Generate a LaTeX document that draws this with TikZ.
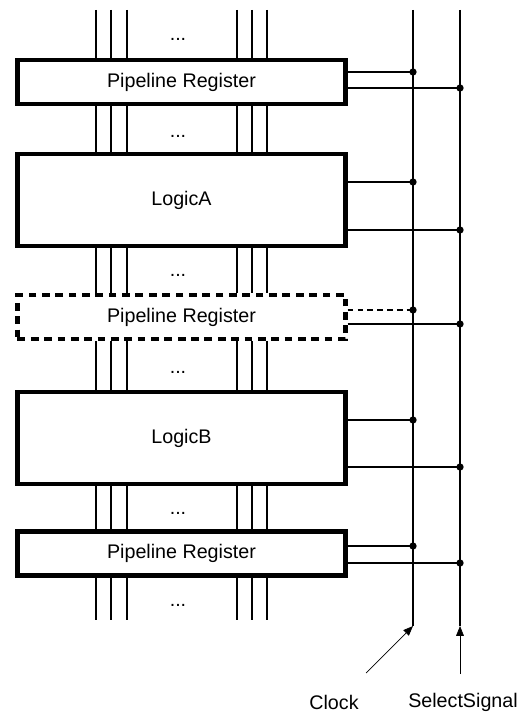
\documentclass[tikz,border=0pt]{standalone}
\usepackage{fontspec}
\setmainfont{Liberation Sans}
\usetikzlibrary{arrows.meta}

\begin{document}
\begin{tikzpicture}[
  x=0.025cm,y=-0.025cm,
  font=\fontsize{14}{16}\selectfont,
  block/.style={draw,line width=3pt,fill=white,minimum width=8.2cm,inner sep=0pt},
  register/.style={block,minimum height=1.1cm},
  logic/.style={block,minimum height=2.3cm},
  spare/.style={register,dash pattern=on 5.5pt off 4pt},
  wire/.style={line width=1.9pt},
  sparewire/.style={wire,dash pattern=on 4pt off 3pt},
  busgap/.style={inner sep=0pt,anchor=base},
  feed/.style={line width=0.5pt,-{Triangle[length=7pt,width=5.5pt]}},
]
  \useasboundingbox (0,0) rectangle (528,720);

  \node[register] (reg1)   at (181.5,82)  {Pipeline Register};
  \node[logic]    (logicA) at (181.5,200) {LogicA};
  \node[spare]    (reg2)   at (181.5,317) {Pipeline Register};
  \node[logic]    (logicB) at (181.5,438) {LogicB};
  \node[register] (reg3)   at (181.5,553.5) {Pipeline Register};

  \foreach \x [count=\i] in {96,111,127,237,252,267} {
    \coordinate (top\i) at (\x,10);
    \coordinate (bot\i) at (\x,620);
  }
  \foreach \i in {1,...,6} {
    \draw[wire] (top\i) -- (reg1.north -| top\i);
    \draw[wire] (reg1.south -| top\i) -- (logicA.north -| top\i);
    \draw[wire] (logicA.south -| top\i) -- (reg2.north -| top\i);
    \draw[wire] (reg2.south -| top\i) -- (logicB.north -| top\i);
    \draw[wire] (logicB.south -| top\i) -- (reg3.north -| top\i);
    \draw[wire] (reg3.south -| top\i) -- (bot\i);
  }

  \node[busgap] (gap1) at (178,41)  {...};
  \node[busgap] (gap2) at (178,138) {...};
  \node[busgap] (gap3) at (178,277) {...};
  \node[busgap] (gap4) at (178,373) {...};
  \node[busgap] (gap5) at (178,514) {...};
  \node[busgap] (gap6) at (178,606) {...};

  \coordinate (clkTop)  at (413,10);
  \coordinate (clkEnd)  at (413,626);
  \coordinate (clkTail) at (366,673);
  \coordinate (selTop)  at (460,10);
  \coordinate (selEnd)  at (460,626);
  \coordinate (selTail) at (460,674);
  \draw[wire] (clkTop) -- (clkEnd);
  \draw[wire] (selTop) -- (selEnd);
  \draw[feed] (clkTail) -- (clkEnd);
  \draw[feed] (selTail) -- (selEnd);

  \foreach \blk/\ck/\sl/\look in {reg1/72/88/wire,logicA/182/230/wire,
      reg2/310/324/sparewire,logicB/420/467/wire,reg3/546/563/wire} {
    \coordinate (ck-\blk) at (413,\ck);
    \coordinate (sl-\blk) at (460,\sl);
    \draw[\look] (\blk.east |- ck-\blk) -- (ck-\blk);
    \draw[wire] (\blk.east |- sl-\blk) -- (sl-\blk);
    \fill (ck-\blk) circle[radius=2.6pt];
    \fill (sl-\blk) circle[radius=2.6pt];
  }

  \node (clock)  at (334,702) {Clock};
  \node (select) at (463,702) {SelectSignal};
\end{tikzpicture}
\end{document}
